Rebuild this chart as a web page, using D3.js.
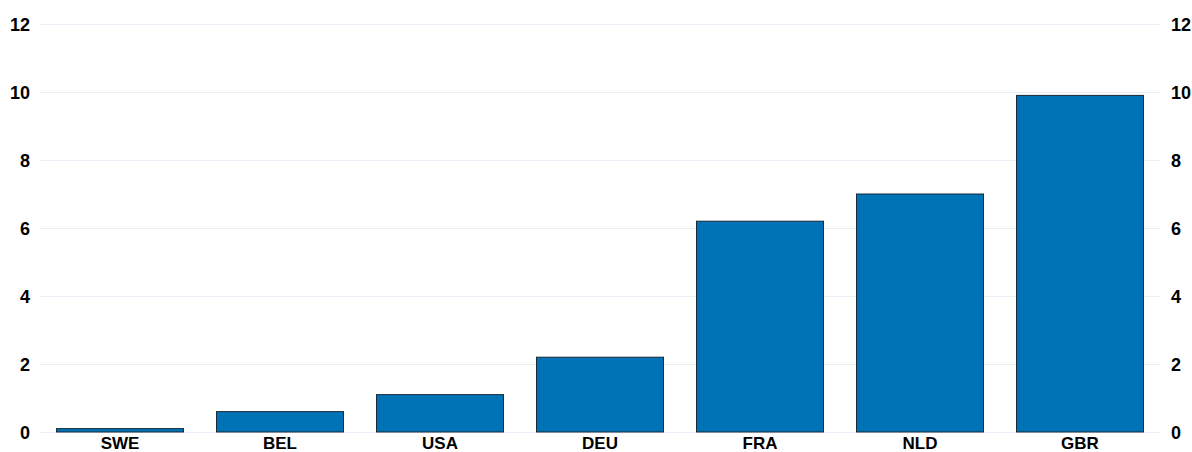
<!DOCTYPE html>
<html><head><meta charset="utf-8">
<script src="https://cdn.jsdelivr.net/npm/d3@7"></script>
<style>body{margin:0;background:#fff;} text{font-family:"Liberation Sans",Arial,sans-serif;}</style>
</head><body>
<svg id="c" width="1192" height="452"></svg>
<script>
const categories = ["SWE","BEL","USA","DEU","FRA","NLD","GBR"];
const values = [0.1,0.6,1.1,2.2,6.2,7.0,9.9];
const yTicks = [0,2,4,6,8,10,12];

const svg = d3.select("#c");
const x = d3.scaleBand().domain(categories).range([40,1160]).paddingInner(0.2).paddingOuter(0.1);
const y = d3.scaleLinear().domain([0,12]).range([432,24]);

svg.append("g").selectAll("line").data(yTicks).join("line")
  .attr("x1",40).attr("x2",1160).attr("y1",d=>y(d)+0.5).attr("y2",d=>y(d)+0.5)
  .attr("stroke","#e9edf6").attr("stroke-width",1);

const left = svg.append("g").attr("transform","translate(30,0)")
  .call(d3.axisLeft(y).tickValues(yTicks).tickSize(0).tickPadding(0));
const right = svg.append("g").attr("transform","translate(1171,0)")
  .call(d3.axisRight(y).tickValues(yTicks).tickSize(0).tickPadding(0));
[left,right].forEach(g=>{
  g.select(".domain").remove();
  g.selectAll("text").attr("font-size",18).attr("font-weight","bold").attr("font-family","Liberation Sans, Arial, sans-serif").attr("fill","#000").attr("dy","0.35em");
});

svg.append("g").selectAll("rect").data(values).join("rect")
  .attr("x",(d,i)=>x(categories[i])+0.5).attr("width",x.bandwidth()-1)
  .attr("y",d=>y(d)).attr("height",d=>y(0)-y(d))
  .attr("fill","#0073b7").attr("stroke","#1a2a38").attr("stroke-width",1);

const bottom = svg.append("g").attr("transform","translate(0,432)")
  .call(d3.axisBottom(x).tickSize(0));
bottom.select(".domain").remove();
bottom.selectAll("text").attr("y",17).attr("dy",0).attr("font-size",17).attr("font-weight","bold").attr("font-family","Liberation Sans, Arial, sans-serif").attr("fill","#000");
</script>
</body></html>
